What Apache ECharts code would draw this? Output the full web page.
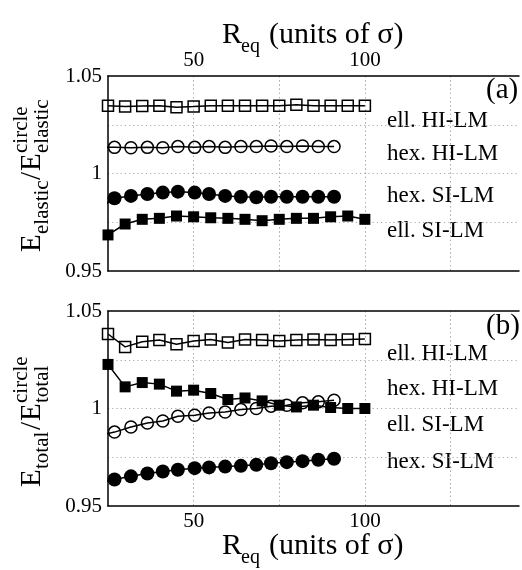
<!DOCTYPE html>
<html><head><meta charset="utf-8">
<script src="https://cdn.jsdelivr.net/npm/echarts@6/dist/echarts.min.js"></script>
<style>html,body{margin:0;padding:0;background:#fff}#c{width:522px;height:570px}</style>
</head><body><div id="c"></div>
<script>
// x positions (R_eq, units of sigma)
const xEll = [25,30,35,40,45,50,55,60,65,70,75,80,85,90,95,100];
const xHex = [22.3,26.9,31.7,36.5,41.0,45.4,50.3,54.5,59.2,63.8,68.3,72.6,77.2,81.8,86.4,91.0];
// panel (a): E_elastic / E_elastic^circle
const aEllHI = [1.0348,1.0343,1.0346,1.0348,1.0340,1.0343,1.0348,1.0348,1.0348,1.0348,1.0348,1.0352,1.0348,1.0348,1.0348,1.0348];
const aHexHI = [1.0134,1.0134,1.0132,1.0134,1.0132,1.0138,1.0134,1.0138,1.0134,1.0138,1.0138,1.0141,1.0138,1.0141,1.0138,1.0138];
const aHexSI = [0.9822,0.9873,0.9885,0.9895,0.9902,0.9907,0.9902,0.9895,0.9885,0.9881,0.9878,0.9881,0.9881,0.9881,0.9881,0.9881];
const aEllSI = [0.9685,0.9741,0.9765,0.9770,0.9782,0.9778,0.9773,0.9770,0.9765,0.9758,0.9765,0.9770,0.9770,0.9778,0.9782,0.9765];
// panel (b): E_total / E_total^circle
const bOpenSq = [1.0382,1.0316,1.0342,1.0351,1.0330,1.0346,1.0354,1.0339,1.0354,1.0351,1.0346,1.0351,1.0354,1.0351,1.0354,1.0356];
const bFillSq = [1.0226,1.0111,1.0133,1.0125,1.0089,1.0094,1.0077,1.0046,1.0054,1.0039,1.0017,1.0008,1.0017,1.0005,1.0000,1.0000];
const bOpenCi = [0.9861,0.9879,0.9905,0.9926,0.9936,0.9960,0.9965,0.9977,0.9982,0.9995,1.0000,1.0012,1.0017,1.0029,1.0034,1.0042];
const bFillCi = [0.9616,0.9636,0.9652,0.9667,0.9677,0.9686,0.9694,0.9698,0.9702,0.9706,0.9711,0.9719,0.9725,0.9730,0.9737,0.9742];
// tick labels
const xTickLabels = [50, 100];
const yTickLabels = ['0.95', '1', '1.05'];
// text labels
const labelsA = ['ell. HI-LM', 'hex. HI-LM', 'hex. SI-LM', 'ell. SI-LM'];
const labelsB = ['ell. HI-LM', 'hex. HI-LM', 'ell. SI-LM', 'hex. SI-LM'];

const FONT = 'Liberation Serif';
const zip = (xs, ys) => xs.map((x, i) => [x, ys[i]]);

const chart = echarts.init(document.getElementById('c'), null, {renderer: 'canvas'});

const gridLine = {show: true, lineStyle: {color: '#aaa', type: [1.2, 3], width: 1}};
function xAxisDef(gi, pos, showLabels) {
  return {
    type: 'value', gridIndex: gi, position: pos, min: 25, max: 145, interval: 25,
    axisLine: {show: true, onZero: false, lineStyle: {color: '#000', width: 1.5}},
    axisTick: {show: false},
    splitLine: Object.assign({showMinLine: false, showMaxLine: false}, gridLine),
    axisLabel: {
      show: showLabels, color: '#000', fontFamily: FONT, fontSize: 21, margin: 5,
      formatter: v => xTickLabels.some(t => Math.abs(t - v) < 1e-6) ? String(v) : ''
    }
  };
}
function yAxisDef(gi) {
  return {
    type: 'value', gridIndex: gi, min: 0.95, max: 1.05, interval: 0.025,
    axisLine: {show: true, onZero: false, lineStyle: {color: '#000', width: 1.5}},
    axisTick: {show: false},
    splitLine: Object.assign({showMinLine: false, showMaxLine: false}, gridLine),
    axisLabel: {
      color: '#000', fontFamily: FONT, fontSize: 21, margin: 6,
      formatter: v => {
        const f = yTickLabels.find(t => Math.abs(parseFloat(t) - v) < 1e-6);
        return f || '';
      }
    }
  };
}
function ser(xi, yi, xs, ys, symbol, size, filled) {
  return {
    type: 'line', xAxisIndex: xi, yAxisIndex: yi, data: zip(xs, ys),
    symbol: symbol, symbolSize: size, showAllSymbol: true, clip: true,
    lineStyle: {color: '#000', width: 1.5},
    itemStyle: filled ? {color: '#000', borderColor: '#000', borderWidth: 0}
                      : {color: 'rgba(0,0,0,0)', borderColor: '#000', borderWidth: 1.5},
    emphasis: {disabled: true}, animation: false, z: 3
  };
}

// rotated y-axis title: E_sub / E^circle_sub
function yTitle(x, y, sub) {
  const M = 29, S = 21;
  const subW = sub === 'elastic' ? 53 : 38;
  const mk = (t, lx, base, fs) => ({
    type: 'text', x: lx, y: base - 0.32 * fs,
    style: {text: t, font: fs + 'px "' + FONT + '"', fill: '#000', verticalAlign: 'middle', align: 'left'}
  });
  const e1 = 0, s1 = 18, sl = s1 + subW + 1, e2 = sl + 9, s2 = e2 + 18;
  return {
    type: 'group', x: x, y: y, rotation: Math.PI / 2,
    children: [
      mk('E', e1, 0, M), mk(sub, s1, 7, S), mk('/', sl, 0, M),
      mk('E', e2, 0, M), mk('circle', s2, -14, S), mk(sub, s2, 7, S)
    ]
  };
}
function xTitle(x, base) {
  const M = 30, S = 20;
  const mk = (t, lx, b, fs) => ({
    type: 'text', x: lx, y: b - 0.32 * fs,
    style: {text: t, font: fs + 'px "' + FONT + '"', fill: '#000', verticalAlign: 'middle', align: 'left'}
  });
  return {type: 'group', children: [mk('R', x, base, M), mk('eq', x + 19, base + 8, S), mk('(units of σ)', x + 47, base, M)]};
}
function seriesLabels(arr, ys) {
  return arr.map((t, i) => ({
    type: 'text', x: 387, y: ys[i],
    style: {text: t, font: '23px "' + FONT + '"', fill: '#000', verticalAlign: 'middle', align: 'left'}
  }));
}

const option = {
  backgroundColor: '#fff',
  animation: false,
  grid: [
    {left: 108, top: 76, width: 415, height: 195},
    {left: 108, top: 311, width: 415, height: 195}
  ],
  xAxis: [xAxisDef(0, 'bottom', false), xAxisDef(0, 'top', true), xAxisDef(1, 'bottom', true), xAxisDef(1, 'top', false)],
  yAxis: [yAxisDef(0), yAxisDef(1)],
  series: [
    ser(0, 0, xEll, aEllHI, 'rect', 11, false),
    ser(0, 0, xHex, aHexHI, 'circle', 12, false),
    ser(0, 0, xHex, aHexSI, 'circle', 14, true),
    ser(0, 0, xEll, aEllSI, 'rect', 11, true),
    ser(2, 1, xEll, bOpenSq, 'rect', 11, false),
    ser(2, 1, xEll, bFillSq, 'rect', 11, true),
    ser(2, 1, xHex, bOpenCi, 'circle', 12, false),
    ser(2, 1, xHex, bFillCi, 'circle', 14, true)
  ],
  graphic: [].concat(
    [xTitle(222, 45), xTitle(222, 556), yTitle(42, 252, 'elastic'), yTitle(42, 487, 'total')],
    seriesLabels(labelsA, [121, 154, 196, 231]),
    seriesLabels(labelsB, [354, 389, 425, 462]),
    [
      {type: 'text', x: 486, y: 90, style: {text: '(a)', font: '29px "' + FONT + '"', fill: '#000', verticalAlign: 'middle'}},
      {type: 'text', x: 486, y: 326, style: {text: '(b)', font: '29px "' + FONT + '"', fill: '#000', verticalAlign: 'middle'}}
    ]
  )
};
chart.setOption(option);
</script></body></html>
